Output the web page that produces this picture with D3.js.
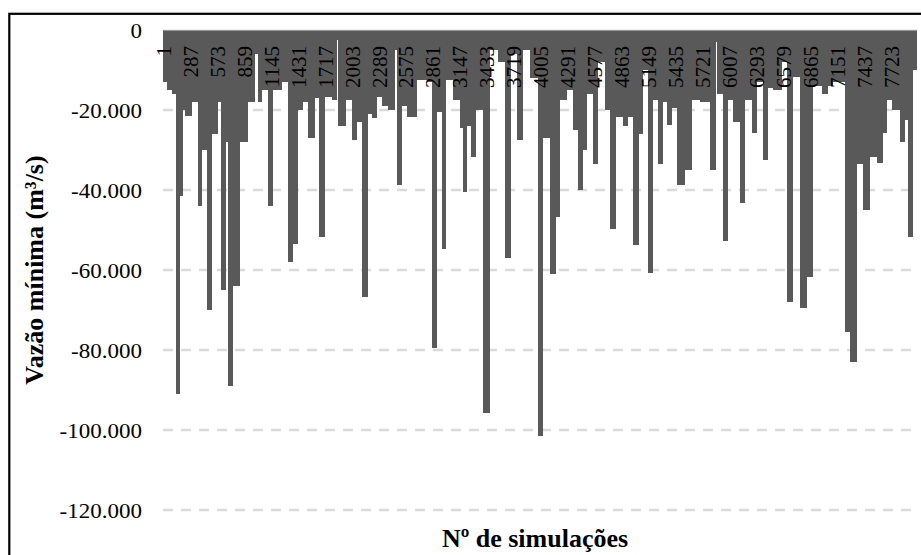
<!DOCTYPE html>
<html>
<head>
<meta charset="utf-8">
<script src="https://cdn.jsdelivr.net/npm/d3@7"></script>
<style>
  html, body { margin: 0; padding: 0; background: #ffffff; }
  svg { display: block; }
</style>
</head>
<body>
<svg id="chart" width="921" height="555"></svg>
<script>
// Número total de simulações
const totalSimulacoes = 8000;

// Primeira simulação de cada trecho com a mesma vazão mínima
const inicioTrecho = [
  1, 43, 96, 139, 181, 213, 234, 309, 372, 415, 468, 521, 585, 616, 669, 691, 744, 818, 903, 977,
  1009, 1051, 1115, 1168, 1264, 1327, 1380, 1433, 1486, 1539, 1614, 1656, 1720, 1794, 1847, 1859, 1943, 2006, 2059, 2112,
  2176, 2218, 2272, 2325, 2388, 2463, 2484, 2537, 2590, 2696, 2802, 2855, 2908, 2961, 3004, 3078, 3152, 3184, 3226, 3269,
  3322, 3396, 3470, 3555, 3630, 3693, 3757, 3821, 3895, 3980, 4033, 4107, 4171, 4213, 4287, 4351, 4404, 4457, 4500, 4563,
  4616, 4691, 4744, 4807, 4881, 4935, 4988, 5051, 5094, 5147, 5200, 5253, 5306, 5348, 5401, 5455, 5539, 5614, 5699, 5805,
  5868, 5880, 5943, 5996, 6049, 6123, 6176, 6250, 6303, 6367, 6420, 6473, 6569, 6622, 6685, 6760, 6834, 6898, 6993, 7057,
  7110, 7237, 7290, 7364, 7428, 7502, 7577, 7640, 7683, 7736, 7821, 7874, 7905, 7959
];

// Vazão mínima de cada trecho (m³/s)
const vazaoMinima = [
  -13000, -15000, -16000, -91000, -41500, -20000, -21500, -18000, -44000, -30000, -70000, -26000, -18000, -65000, -28000, -89000, -64000, -28000, -18000, -6000,
  -18000, -15000, -44000, -15000, -13000, -58000, -53500, -20000, -18000, -27000, -17000, -51700, -16700, -17500, -2500, -24000, -17500, -27400, -23000, -66700,
  -21000, -22000, -16700, -19000, -20000, -5000, -38700, -19000, -21700, -12500, -13000, -79500, -20500, -54700, -12500, -17500, -24600, -40400, -24000, -31700,
  -20000, -95700, -5000, -8000, -57000, -6000, -27500, -5000, -12000, -101500, -27000, -61000, -46700, -17500, -15000, -25000, -40000, -30000, -16000, -33500,
  -8000, -20000, -49700, -21700, -24000, -21700, -53700, -26000, -10000, -60700, -17500, -33500, -18000, -23700, -19600, -38700, -35000, -17500, -18000, -35000,
  -3000, -16000, -52700, -17500, -23000, -43300, -17500, -25800, -13000, -32500, -14500, -15000, -8000, -68000, -11700, -69500, -61700, -14000, -16000, -14000,
  -13000, -75500, -83000, -33500, -45000, -31700, -33300, -25800, -17500, -20000, -28000, -22500, -51700, -10000
];

// Rótulos exibidos no eixo das simulações
const rotulosSimulacao = [1, 287, 573, 859, 1145, 1431, 1717, 2003, 2289, 2575, 2861, 3147, 3433, 3719,
  4005, 4291, 4577, 4863, 5149, 5435, 5721, 6007, 6293, 6579, 6865, 7151, 7437, 7723];

// Marcas do eixo de vazão
const marcasVazao = [0, -20000, -40000, -60000, -80000, -100000, -120000];

const svg = d3.select("#chart");
const serif = "'Liberation Serif', 'Times New Roman', serif";

const ptBR = d3.formatLocale({ decimal: ",", thousands: ".", grouping: [3], currency: ["R$", ""], minus: "-" });
const fmt = ptBR.format(",.0f");

const x = d3.scaleBand()
  .domain(d3.range(1, totalSimulacoes + 1))
  .range([163, 917])
  .paddingInner(0).paddingOuter(0);

const y = d3.scaleLinear()
  .domain([0, -120000])
  .range([30, 510]);

// Moldura
svg.append("rect")
  .attr("x", 9.3).attr("y", 13.8)
  .attr("width", 1000).attr("height", 1000)
  .attr("fill", "none").attr("stroke", "#000").attr("stroke-width", 2.2);

// Linhas de grade tracejadas
svg.append("g").selectAll("line")
  .data(marcasVazao.filter(d => d !== 0))
  .join("line")
  .attr("x1", 163).attr("x2", 917)
  .attr("y1", d => y(d)).attr("y2", d => y(d))
  .attr("stroke", "#d9d9d9").attr("stroke-width", 2.5)
  .attr("stroke-dasharray", "10,8");

// Barras
const fimTrecho = i => (i < inicioTrecho.length - 1 ? inicioTrecho[i + 1] : totalSimulacoes + 1);
svg.append("g").selectAll("rect")
  .data(vazaoMinima)
  .join("rect")
  .attr("x", (d, i) => x(inicioTrecho[i]))
  .attr("width", (d, i) => {
    const fim = fimTrecho(i);
    const xf = fim > totalSimulacoes ? x(totalSimulacoes) + x.bandwidth() : x(fim);
    return xf - x(inicioTrecho[i]);
  })
  .attr("y", y(0))
  .attr("height", d => y(d) - y(0))
  .attr("fill", "#595959")
  .attr("shape-rendering", "crispEdges");

// Eixo das simulações (rótulos verticais no topo)
const eixoX = svg.append("g")
  .attr("transform", `translate(0,${y(0)})`)
  .call(d3.axisBottom(x).tickValues(rotulosSimulacao).tickSize(0).tickPadding(0));
eixoX.select(".domain").attr("stroke", "#d9d9d9").attr("stroke-width", 1).attr("transform", "translate(0,-0.5)");
eixoX.selectAll("text")
  .attr("transform", "rotate(-90)")
  .attr("x", -16).attr("y", 0).attr("dy", "0.35em")
  .style("text-anchor", "end")
  .style("font-family", serif).style("font-size", "21px").attr("fill", "#000");

// Eixo da vazão
const eixoY = svg.append("g")
  .attr("transform", "translate(142,0)")
  .call(d3.axisLeft(y).tickValues(marcasVazao).tickSize(0).tickPadding(0).tickFormat(fmt));
eixoY.select(".domain").remove();
eixoY.selectAll("text")
  .attr("x", 0).attr("dy", "0.35em")
  .attr("transform", "scale(1.15,1)")
  .style("text-anchor", "end")
  .style("font-family", serif).style("font-size", "20px").attr("fill", "#000");

// Títulos dos eixos
svg.append("text")
  .attr("transform", "translate(43,270) rotate(-90)")
  .attr("text-anchor", "middle")
  .style("font-family", serif).style("font-size", "26px").style("font-weight", "bold")
  .text("Vazão mínima (m³/s)");

svg.append("text")
  .attr("x", 535).attr("y", 547)
  .attr("text-anchor", "middle")
  .style("font-family", serif).style("font-size", "26px").style("font-weight", "bold")
  .text("Nº de simulações");
</script>
</body>
</html>
